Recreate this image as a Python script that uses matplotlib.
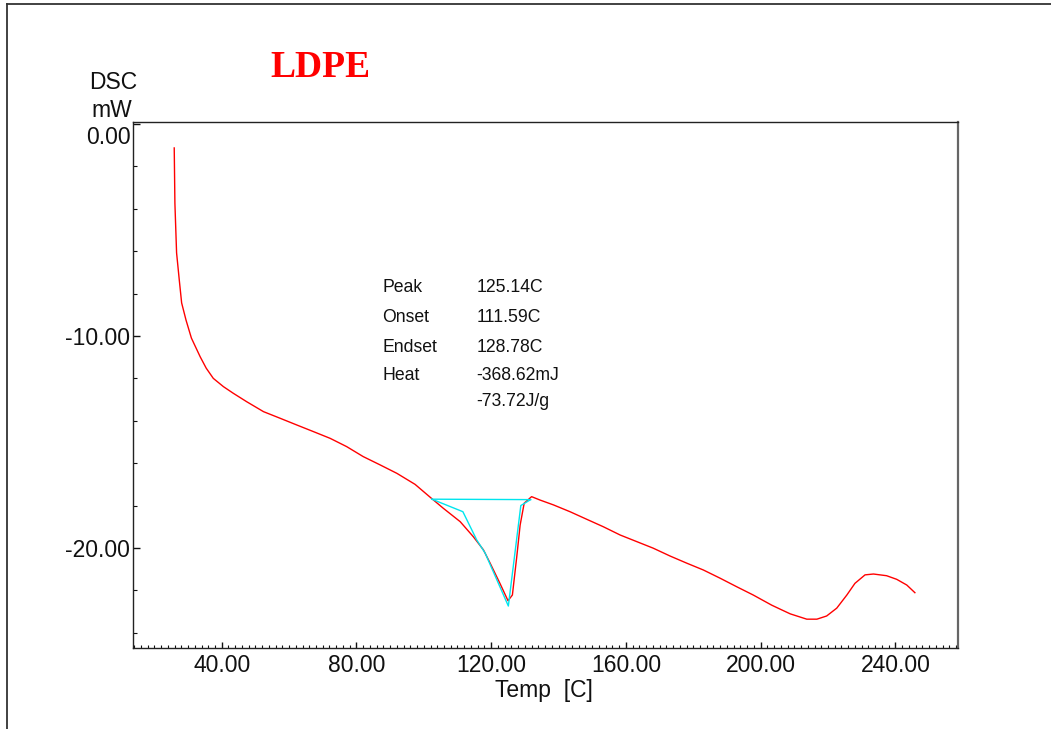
import matplotlib
matplotlib.use("Agg")
import matplotlib.pyplot as plt
from matplotlib.lines import Line2D
from matplotlib.ticker import MultipleLocator, FuncFormatter

plt.rcParams['axes.unicode_minus'] = False
plt.rcParams['font.family'] = ['Liberation Sans', 'DejaVu Sans']

# DSC curve (Temp [C], DSC [mW])
temp = [25.9, 26.1, 26.6, 27.4, 28.1, 29.4, 31.0, 33.6, 35.4, 37.5, 40.5, 43.4,
        47.4, 52.4, 57.3, 62.3, 67.2, 72.2, 77.1, 82.0, 87.0, 92.0, 97.4,
        102.2, 105.8, 110.8, 114.7, 117.7, 119.7, 122.6, 125.0, 126.3, 127.6,
        128.6, 129.8, 132.0, 134.5, 138.5, 143.4, 148.4, 153.3, 158.3, 163.2,
        168.1, 173.1, 178.1, 183.0, 188.0, 192.9, 197.8, 203.3, 205.7, 208.8,
        213.7, 216.7, 219.6, 222.6, 225.6, 228.0, 231.0, 233.5, 237.4, 240.4,
        243.4, 245.8]
dsc = [-1.13, -3.74, -6.08, -7.36, -8.44, -9.25, -10.10, -10.98, -11.52, -12.00,
       -12.39, -12.70, -13.10, -13.57, -13.88, -14.20, -14.51, -14.83, -15.22,
       -15.69, -16.08, -16.48, -17.00, -17.65, -18.13, -18.76, -19.47, -20.09,
       -20.72, -21.67, -22.49, -22.22, -20.41, -18.92, -17.89, -17.58, -17.74,
       -17.97, -18.29, -18.65, -19.00, -19.39, -19.70, -20.01, -20.38, -20.72,
       -21.04, -21.43, -21.83, -22.22, -22.70, -22.88, -23.11, -23.36, -23.36,
       -23.21, -22.84, -22.22, -21.67, -21.27, -21.23, -21.31, -21.48, -21.75,
       -22.11]

# Analysis lines (cyan)
base_temp = [102.4, 131.7]
base_dsc = [-17.70, -17.72]
fit_temp = [102.4, 111.6, 115.7, 118.2, 125.1, 128.8, 131.7]
fit_dsc = [-17.70, -18.29, -19.62, -20.24, -22.74, -18.00, -17.72]

x_ticks = [40, 80, 120, 160, 200, 240]
y_ticks = [-10, -20]

result_names = ["Peak", "Onset", "Endset", "Heat", ""]
result_values = ["125.14C", "111.59C", "128.78C", "-368.62mJ", "-73.72J/g"]

W, H = 1051, 729
fig = plt.figure(figsize=(W / 100, H / 100), dpi=100)

def fx(px):
    return px / W

def fy(py):
    return 1 - py / H

ax = fig.add_axes([fx(133), fy(648), fx(958) - fx(133), fy(122) - fy(648)])
ax.plot(temp, dsc, color='#ff0000', lw=1.0)
ax.plot(base_temp, base_dsc, color='#00e5ee', lw=1.0)
ax.plot(fit_temp, fit_dsc, color='#00e5ee', lw=1.0)

ax.set_xlim(13.66, 258.6)
ax.set_ylim(-24.72, 0.094)

ax.xaxis.set_major_locator(plt.FixedLocator(x_ticks))
ax.xaxis.set_minor_locator(MultipleLocator(2))
ax.yaxis.set_major_locator(plt.FixedLocator([0] + y_ticks))
ax.yaxis.set_minor_locator(MultipleLocator(2))
ax.xaxis.set_major_formatter(FuncFormatter(lambda v, p: f"{v:.2f}"))
ax.yaxis.set_major_formatter(FuncFormatter(lambda v, p: "" if abs(v) < 1e-9 else f"{v:.2f}"))

ax.tick_params(axis='x', which='major', direction='in', length=4.3, width=1.0,
               labelsize=16.5, pad=4, colors='#111')
ax.tick_params(axis='x', which='minor', direction='in', length=2.2, width=0.8, colors='#111')
ax.tick_params(axis='y', which='major', direction='in', length=5, width=1.0,
               labelsize=16.5, pad=2, colors='#111')
ax.tick_params(axis='y', which='minor', direction='in', length=2.9, width=0.8, colors='#111')

for s in ['left', 'top', 'bottom']:
    ax.spines[s].set_color('#222')
    ax.spines[s].set_linewidth(1.0)
ax.spines['right'].set_color('#666')
ax.spines['right'].set_linewidth(1.6)

# 0.00 label is drawn slightly below its tick
fig.text(fx(131), fy(143.5), "0.00", ha='right', va='baseline', fontsize=16.5, color='#111')

# Axis labels
fig.text(fx(113.5), fy(89.3), "DSC", ha='center', va='baseline', fontsize=16.5, color='#111')
fig.text(fx(111.7), fy(116.7), "mW", ha='center', va='baseline', fontsize=16.5, color='#111')
fig.text(fx(543.5), fy(697.3), "Temp  [C]", ha='center', va='baseline', fontsize=16.5, color='#111')

# Title
fig.text(fx(270), fy(77.3), "LDPE", ha='left', va='baseline', fontsize=27,
         fontweight='bold', color='#ff0000', family=['Liberation Serif', 'DejaVu Serif'])

# Results block
baselines = [292.3, 321.7, 351.7, 380.3, 405.5]
for name, val, by in zip(result_names, result_values, baselines):
    if name:
        fig.text(fx(382.5), fy(by), name, ha='left', va='baseline', fontsize=12.7, color='#111')
    fig.text(fx(476.5), fy(by), val, ha='left', va='baseline', fontsize=12.7, color='#111')

# Outer frame (left and top)
fig.add_artist(Line2D([fx(7.3), fx(7.3)], [0, fy(4)], transform=fig.transFigure, color='#333', lw=1.3))
fig.add_artist(Line2D([fx(7.3), 1], [fy(4), fy(4)], transform=fig.transFigure, color='#333', lw=1.3))

fig.savefig("out.png", dpi=100)
